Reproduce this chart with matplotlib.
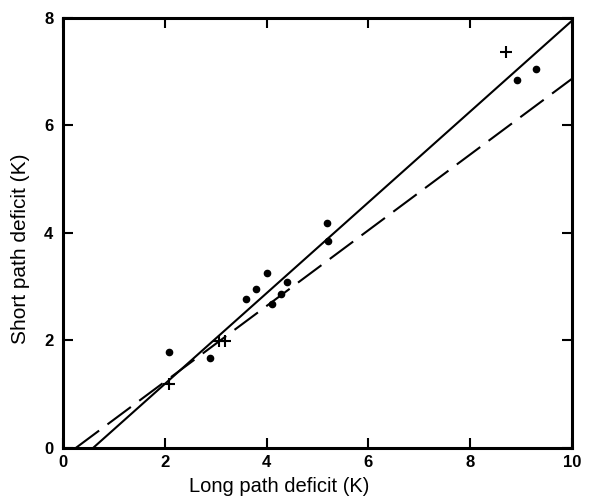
import matplotlib
matplotlib.use("Agg")
import matplotlib.pyplot as plt

plt.rcParams['font.family'] = ['Liberation Sans', 'DejaVu Sans']

# dots: measured deficits
dot_x = [2.09, 2.88, 3.60, 3.80, 4.00, 4.11, 4.28, 4.40, 5.19, 5.21, 8.91, 9.30]
dot_y = [1.79, 1.67, 2.78, 2.95, 3.25, 2.67, 2.87, 3.08, 4.18, 3.86, 6.84, 7.05]
# crosses
cross_x = [2.09, 3.07, 3.18, 8.71]
cross_y = [1.19, 1.99, 1.99, 7.36]
# fitted lines (endpoints)
solid_x = [0.59, 10.0]
solid_y = [0.0, 7.95]
dash_x = [0.25, 10.0]
dash_y = [0.0, 6.87]

fig = plt.figure(figsize=(6.11, 4.97), dpi=100)
ax = fig.add_axes([0.1031, 0.0986, 0.8331, 0.8652])

ax.plot(solid_x, solid_y, color='black', lw=1.5)
ax.plot(dash_x, dash_y, color='black', lw=1.5, dashes=(14, 5))
ax.plot(dot_x, dot_y, 'o', color='black', markersize=4.5)
ax.plot(cross_x, cross_y, '+', color='black', markersize=8, mew=1.5)

ax.set_xlim(0, 10)
ax.set_ylim(0, 8)
ax.set_xticks([0, 2, 4, 6, 8, 10])
ax.set_yticks([0, 2, 4, 6, 8])
ax.tick_params(direction='in', length=7, width=1.5, top=True, right=True,
               labelsize=12)
ax.tick_params(axis='y', pad=7)
ax.tick_params(axis='x', pad=5)
for lab in ax.get_xticklabels() + ax.get_yticklabels():
    lab.set_fontweight('bold')
for s in ax.spines.values():
    s.set_linewidth(2.2)

ax.set_xlabel('Long path deficit (K)', fontsize=14.5)
ax.set_ylabel('Short path deficit (K)', fontsize=15)
ax.xaxis.set_label_coords(0.425, -0.068)
ax.yaxis.set_label_coords(-0.064, 0.463)

fig.savefig('out.png', dpi=100)
